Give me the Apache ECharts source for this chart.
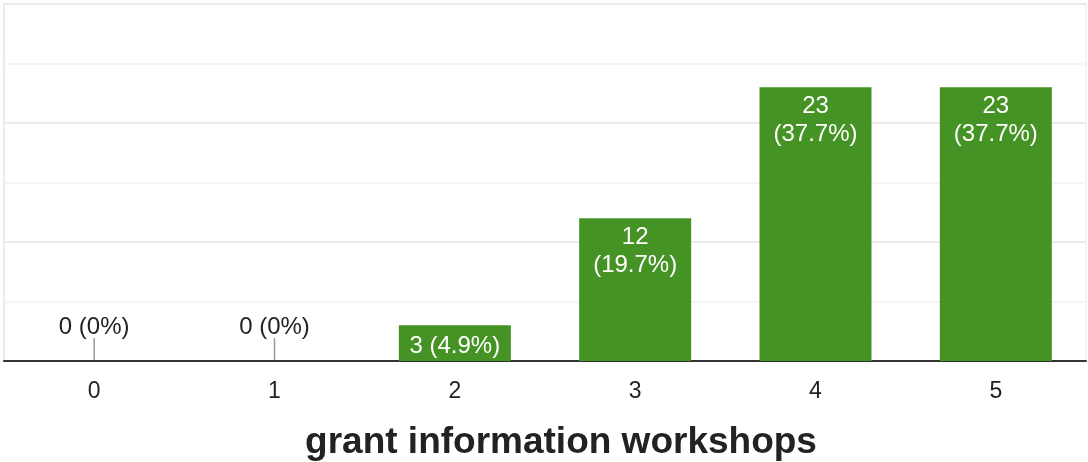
<!DOCTYPE html>
<html><head><meta charset="utf-8">
<script src="https://cdn.jsdelivr.net/npm/echarts@6/dist/echarts.min.js"></script>
<style>html,body{margin:0;padding:0;background:#fff}#c{width:1088px;height:462px}</style>
</head><body><div id="c"></div>
<script>
const categories = ['0', '1', '2', '3', '4', '5'];
const counts = [0, 0, 3, 12, 23, 23];
const chartTitle = 'grant information workshops';
const yMax = 30;
const yInterval = 10;

const FONT = '"Liberation Sans", Arial, sans-serif';
const total = counts.reduce((a, b) => a + b, 0);
function pct(v) {
  const p = Math.round(v / total * 1000) / 10;
  return (p === 0 ? '0' : p.toFixed(1)) + '%';
}

const barData = counts.map((v, i) => {
  if (v === 0) return { value: v, label: { show: false } };
  const twoLine = v >= 10;
  return {
    value: v,
    label: {
      show: true,
      formatter: twoLine ? (v + '\n(' + pct(v) + ')') : (v + ' (' + pct(v) + ')'),
      distance: twoLine ? 5 : 7
    }
  };
});

const chart = echarts.init(document.getElementById('c'), null, { renderer: 'canvas' });
chart.setOption({
  animation: false,
  backgroundColor: '#fff',
  title: {
    text: chartTitle,
    left: 556,
    top: 419,
    textAlign: 'center',
    textStyle: { fontFamily: FONT, fontSize: 37, fontWeight: 'bold', color: '#222' }
  },
  grid: { left: 4, right: 2, top: 4, bottom: 101, show: true, borderColor: '#ebebeb', borderWidth: 1 },
  xAxis: {
    type: 'category',
    data: categories,
    axisLine: { lineStyle: { color: '#333', width: 2 } },
    axisTick: { show: false },
    axisLabel: { color: '#222', fontSize: 23, fontFamily: FONT, margin: 19 }
  },
  yAxis: {
    type: 'value',
    min: 0, max: yMax, interval: yInterval,
    axisLabel: { show: false },
    axisLine: { show: true, lineStyle: { color: '#ebebeb', width: 2 } },
    axisTick: { show: false },
    splitLine: { lineStyle: { color: '#ebebeb', width: 2 } },
    minorTick: { show: false, splitNumber: 2 },
    minorSplitLine: { show: true, lineStyle: { color: '#f5f5f5', width: 2 } }
  },
  series: [
    {
      type: 'bar',
      data: barData,
      barWidth: 112,
      itemStyle: { color: '#459324' },
      label: {
        position: 'insideTop',
        color: '#fff',
        fontSize: 24,
        lineHeight: 28,
        fontFamily: FONT
      }
    },
    {
      type: 'custom',
      data: counts.map((v, i) => [i, v]),
      renderItem: function (params, api) {
        const v = api.value(1);
        if (v !== 0) return null;
        const p = api.coord([api.value(0), 0]);
        return {
          type: 'group',
          children: [
            { type: 'line', shape: { x1: p[0], y1: p[1] - 1, x2: p[0], y2: p[1] - 23 }, style: { stroke: '#999', lineWidth: 1.5 } },
            { type: 'text', x: p[0], y: p[1] - 34, style: { text: v + ' (' + pct(v) + ')', fill: '#222', font: '24px "Liberation Sans", Arial, sans-serif', align: 'center', verticalAlign: 'middle' } }
          ]
        };
      },
      z: 5
    }
  ]
});
</script></body></html>
